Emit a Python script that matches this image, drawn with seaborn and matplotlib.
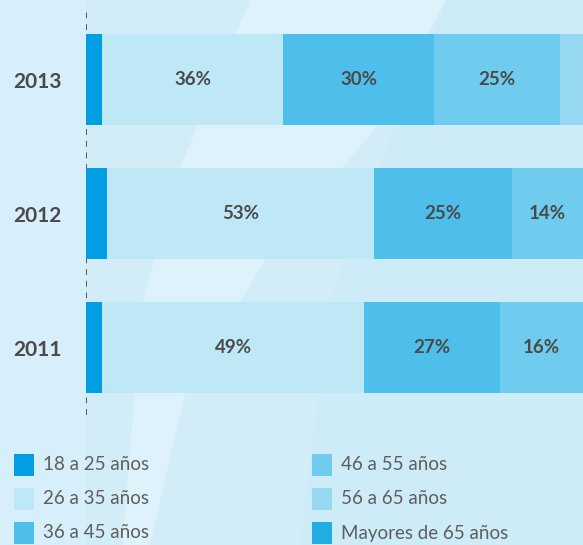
import pandas as pd
import matplotlib.pyplot as plt
import seaborn as sns
from matplotlib.patches import Rectangle, Polygon

anios = ['2013', '2012', '2011']
tramos = ['18 a 25 años', '26 a 35 años', '36 a 45 años',
          '46 a 55 años', '56 a 65 años', 'Mayores de 65 años']
t18_25 = [3.2, 4.2, 3.2]
t26_35 = [36.0, 53.1, 52.1]
t36_45 = [30.0, 27.4, 27.0]
t46_55 = [25.0, 14.3, 16.6]
t56_65 = [5.0, 0.8, 0.8]
t65 = [0.8, 0.2, 0.3]
# etiquetas impresas en cada tramo
etiquetas = {
    '2013': ['', '36%', '30%', '25%', '', ''],
    '2012': ['', '53%', '25%', '14%', '', ''],
    '2011': ['', '49%', '27%', '16%', '', ''],
}

colores = ['#009FE3', '#BEE8F6', '#4DBFEA', '#70CCEE', '#96D8F2', '#22AEE0']
texto = '#4A4A4A'
fuente = ['Lato', 'DejaVu Sans']

W, H = 583, 545
fig = plt.figure(figsize=(W / 100, H / 100), dpi=100)
fig.patch.set_facecolor('#D3EDF8')

# franjas del fondo
def px(pts):
    return [(x / W, 1 - y / H) for x, y in pts]

fig.add_artist(Polygon(px([(0, 0), (86, 0), (86, 545), (0, 545)]),
                       closed=True, transform=fig.transFigure, color='#D6EFFA', lw=0, zorder=-3))
fig.add_artist(Polygon(px([(446, 0), (583, 0), (583, 545), (300, 545), (330, 300), (378, 170)]),
                       closed=True, transform=fig.transFigure, color='#CDECF8', lw=0, zorder=-3))
fig.add_artist(Polygon(px([(250, 0), (446, 0), (378, 125), (266, 259), (185, 393), (150, 545),
                           (122, 545), (143, 300), (180, 168)]),
                       closed=True, transform=fig.transFigure, color='#DDF2FA', lw=0, zorder=-2))

ax = fig.add_axes([86 / W, 1 - 420 / H, 1 - 86 / W, 420 / H])
ax.set_facecolor('none')

df = pd.DataFrame({'anio': anios, tramos[0]: t18_25, tramos[1]: t26_35, tramos[2]: t36_45,
                   tramos[3]: t46_55, tramos[4]: t56_65, tramos[5]: t65})
acum = df[tramos].cumsum(axis=1)

# barras apiladas: se dibuja la suma acumulada de mayor a menor
for i in range(len(tramos) - 1, -1, -1):
    sns.barplot(x=acum[tramos[i]], y=df['anio'], order=anios, orient='h',
                color=colores[i], width=0.68, linewidth=0, saturation=1, ax=ax, zorder=2)

xmax = (583 - 86) / 5.03
ax.set_xlim(0, xmax)
ax.set_ylim(2 + 72.5 / 134, -79.5 / 134)

# etiquetas de porcentaje
for j, a in enumerate(anios):
    izq = 0
    for i, t in enumerate(tramos):
        der = acum.loc[j, t]
        lab = etiquetas[a][i]
        if lab:
            xc = (izq + min(der, xmax)) / 2
            ax.text(xc, j, lab, ha='center', va='center', fontsize=13.5,
                    fontweight='bold', color=texto, zorder=3, family=fuente)
        izq = der

ax.axvline(0, ymin=5 / 420, ymax=410 / 420, color='#555555', lw=1.4,
           linestyle=(0, (3, 3)), zorder=1)

ax.set_xlabel('')
ax.set_ylabel('')
ax.set_xticks([])
ax.set_yticks(range(len(anios)))
ax.set_yticklabels(anios, fontsize=15, fontweight='bold', color=texto, ha='left', family=fuente)
ax.tick_params(axis='y', length=0, pad=73 * 0.72)
for s in ax.spines.values():
    s.set_visible(False)

# leyenda
filas = [465, 499, 533]
for k, t in enumerate(tramos):
    col, fila = divmod(k, 3)
    x0 = 14 if col == 0 else 312
    yc = filas[fila]
    fig.add_artist(Rectangle((x0 / W, 1 - (yc + 11) / H), 20 / W, 22 / H,
                             transform=fig.transFigure, color=colores[k], lw=0))
    fig.text((x0 + 29) / W, 1 - yc / H, t, ha='left', va='center', fontsize=13.5,
             fontweight='normal', color='#5E5E5E', family=fuente)

fig.savefig('out.png', dpi=100)
